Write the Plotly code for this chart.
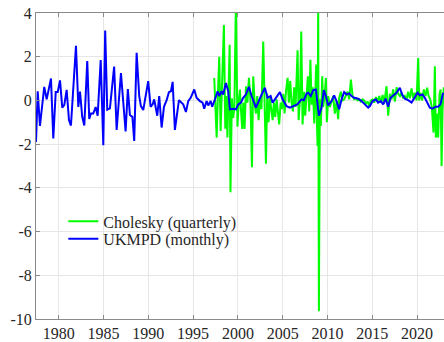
import plotly.graph_objects as go

# UKMPD monetary policy shocks (monthly series, sampled as plotted)
ukmpd_year = [
    1977.47, 1977.66, 1977.91, 1978.39, 1978.66, 1979.14, 1979.40, 1979.67, 1979.89, 1980.15,
    1980.40, 1980.63, 1980.89, 1981.15, 1981.37, 1981.93, 1982.19, 1982.38, 1982.63, 1982.86,
    1983.19, 1983.41, 1983.60, 1983.86, 1984.13, 1984.35, 1984.69, 1984.98, 1985.19, 1985.42,
    1985.72, 1986.19, 1986.47, 1986.95, 1987.47, 1987.72, 1987.95, 1988.23, 1988.43, 1988.70,
    1988.99, 1989.18, 1989.44, 1989.71, 1989.99, 1990.26, 1990.49, 1990.66, 1990.85, 1991.00,
    1991.22, 1991.49, 1991.75, 1992.05, 1992.30, 1992.53, 1992.72, 1992.97, 1993.42, 1993.90,
    1994.20, 1994.46, 1994.73, 1995.13, 1995.39, 1995.76, 1996.06, 1996.24, 1996.51, 1996.69,
    1996.96, 1997.13, 1997.44, 1997.74, 1997.92, 1998.18, 1998.36, 1998.66, 1998.92, 1999.11,
    1999.48, 1999.78, 2000.04, 2000.34, 2000.59, 2000.89, 2001.23, 2001.53, 2002.01, 2002.38,
    2002.65, 2003.01, 2003.31, 2003.65, 2003.87, 2004.13, 2004.39, 2004.69, 2004.99, 2005.43,
    2005.80, 2006.25, 2006.62, 2007.11, 2007.36, 2007.67, 2007.84, 2008.14, 2008.40, 2008.70,
    2009.04, 2009.34, 2009.59, 2009.82, 2010.07, 2010.45, 2010.74, 2011.01, 2011.30, 2011.57,
    2011.86, 2012.13, 2012.42, 2012.68, 2012.97, 2013.42, 2013.80, 2014.17, 2014.54, 2014.73,
    2015.03, 2015.40, 2015.65, 2015.95, 2016.21, 2016.48, 2016.77, 2017.04, 2017.33, 2017.70,
    2018.07, 2018.33, 2018.63, 2019.00, 2019.38, 2019.75, 2020.05, 2020.30, 2020.60, 2020.86,
    2021.16, 2021.42, 2021.72, 2022.06, 2022.35, 2022.61, 2022.90,
]
ukmpd_value = [
    -1.90, 0.42, -1.17, 0.62, 0.05, 1.00, -1.74, 0.38, 0.38, 0.92,
    -0.33, -0.20, 0.48, -0.90, -1.15, 2.50, -0.30, 0.40, -0.75, -1.15,
    1.80, -0.85, -0.60, -0.60, -0.30, -0.70, 1.85, -2.05, 3.20, -0.42,
    -0.36, 1.55, -1.35, 1.25, -1.42, 0.52, -0.67, -0.75, -1.85, 2.18,
    0.20, -0.26, -0.44, 0.20, 0.88, -0.29, -0.18, 0.05, -0.33, -0.70,
    0.20, -1.24, -0.29, 0.01, 0.38, 0.42, 0.85, -1.35, 0.01, -0.18,
    -0.53, -0.03, 0.12, 0.50, 0.12, -0.03, -0.10, -0.38, -0.03, -0.23,
    -0.03, -0.29, 0.05, 0.42, 0.20, 0.42, 0.27, 0.80, 0.42, -0.41,
    -0.38, -0.41, -0.18, -0.10, 0.12, 0.27, 0.62, 0.20, -0.33, 0.05,
    0.27, 0.58, 0.12, 0.20, -0.10, 0.05, 0.20, 0.38, 0.05, -0.26,
    -0.33, -0.26, -0.18, 0.05, 0.01, 0.32, 0.35, 0.20, 0.47, 0.50,
    -0.70, -0.33, 0.47, 0.20, -0.23, -0.03, 0.23, -0.03, -0.41, 0.05,
    0.38, 0.27, 0.32, 0.20, 0.12, 0.08, -0.03, -0.18, -0.33, -0.26,
    -0.03, 0.05, -0.10, -0.03, -0.18, 0.08, -0.29, 0.12, 0.23, 0.35,
    0.58, 0.27, 0.08, 0.01, -0.10, 0.12, 0.35, 0.23, 0.27, 0.12,
    -0.10, -0.33, -0.38, -0.29, -0.29, -0.18, 0.35,
]

# Cholesky-identified shocks (quarterly VAR)
chol_year = [
    1997.36, 1997.49, 1997.63, 1997.77, 1997.92, 1998.07, 1998.22, 1998.44, 1998.59, 1998.70,
    1998.83, 1998.94, 1999.08, 1999.17, 1999.33, 1999.48, 1999.61, 1999.78, 1999.95, 2000.12,
    2000.23, 2000.34, 2000.48, 2000.60, 2000.75, 2000.90, 2001.06, 2001.23, 2001.40, 2001.57,
    2001.71, 2001.87, 2002.01, 2002.16, 2002.31, 2002.46, 2002.63, 2002.83, 2002.98, 2003.13,
    2003.27, 2003.43, 2003.57, 2003.72, 2003.88, 2004.02, 2004.17, 2004.32, 2004.47, 2004.61,
    2004.77, 2004.91, 2005.06, 2005.21, 2005.36, 2005.55, 2005.69, 2005.84, 2005.99, 2006.14,
    2006.28, 2006.44, 2006.66, 2006.78, 2006.92, 2007.07, 2007.22, 2007.37, 2007.51, 2007.67,
    2007.81, 2007.96, 2008.09, 2008.23, 2008.37, 2008.52, 2008.65, 2008.74, 2008.82, 2008.89,
    2008.96, 2009.04, 2009.15, 2009.26, 2009.41, 2009.52, 2009.68, 2009.82, 2009.93, 2010.08,
    2010.27, 2010.46, 2010.63, 2010.82, 2011.01, 2011.19, 2011.30, 2011.49, 2011.68, 2011.86,
    2012.05, 2012.24, 2012.42, 2012.61, 2012.80, 2012.98, 2013.17, 2013.36, 2013.54, 2013.72,
    2013.91, 2014.09, 2014.28, 2014.47, 2014.65, 2014.84, 2015.03, 2015.21, 2015.40, 2015.59,
    2015.77, 2015.96, 2016.15, 2016.32, 2016.59, 2016.77, 2016.96, 2017.15, 2017.33, 2017.52,
    2017.71, 2017.89, 2018.08, 2018.26, 2018.44, 2018.63, 2018.82, 2019.00, 2019.19, 2019.38,
    2019.56, 2019.75, 2019.94, 2020.12, 2020.23, 2020.38, 2020.56, 2020.75, 2020.94, 2021.12,
    2021.28, 2021.46, 2021.64, 2021.83, 2021.98, 2022.09, 2022.24, 2022.35, 2022.50, 2022.62,
    2022.73, 2022.84, 2022.98,
]
chol_value = [
    1.03, -0.10, -1.70, 0.30, 2.00, -1.40, 0.30, 3.45, -1.30, 0.20,
    -1.70, 0.00, 2.55, -4.20, 0.10, -0.80, -0.30, 4.60, -1.20, 0.10,
    0.50, -0.40, -1.30, -0.10, -1.30, 0.65, -0.10, 1.03, 0.00, -3.06,
    1.10, -0.10, -0.60, 0.20, -0.90, 0.10, -0.40, 2.70, 0.40, -2.90,
    0.30, -1.00, 0.10, -0.40, -0.90, -0.10, -0.75, 0.05, -0.60, -1.10,
    -0.10, -0.40, 0.30, -0.60, 0.40, 1.03, -0.10, 0.90, -0.10, -0.50,
    0.60, -0.30, 2.30, -0.90, 0.00, 3.15, -1.10, 0.40, -0.70, 0.60,
    1.10, -0.50, 1.86, -0.20, 0.60, -1.05, 0.30, 1.64, -1.00, -2.08,
    4.60, -9.65, 0.05, -1.17, 1.10, -0.30, 0.20, 1.03, -1.00, 0.20,
    -0.30, 0.00, 0.20, -0.60, -0.05, -0.86, 0.10, 0.40, 0.00, 0.05,
    0.20, 0.40, 0.05, 0.95, 0.20, 0.05, 0.10, 0.00, 0.05, -0.05,
    0.05, 0.00, -0.15, -0.05, -0.25, 0.00, 0.05, -0.10, 0.15, -0.05,
    0.20, -0.10, 0.25, -0.15, 0.65, -0.70, 0.30, 0.05, 0.50, -0.05,
    0.60, 0.30, 0.20, 0.35, 0.10, 0.20, 0.05, 0.40, 0.10, 0.55,
    0.10, 0.35, 0.00, 1.94, 0.00, 0.35, 0.00, 0.50, 0.20, 0.58,
    0.20, 0.05, -0.30, -1.47, 1.56, -1.70, -0.60, -1.70, 0.30, 0.50,
    -3.00, -0.40, 0.60,
]

x_ticks = [1980, 1985, 1990, 1995, 2000, 2005, 2010, 2015, 2020]
x_tick_labels = ["1980", "1985", "1990", "1995", "2000", "2005", "2010", "2015", "2020"]
y_ticks = [-10, -8, -6, -4, -2, 0, 2, 4]
y_tick_labels = ["-10", "-8", "-6", "-4", "-2", "0", "2", "4"]

FONT = "Liberation Serif"
AXIS = "#8a8a8a"
GRID = "#e6e6e6"
TEXT = "#262626"

fig = go.Figure()
fig.add_trace(go.Scatter(
    x=chol_year, y=chol_value, mode="lines", name="Cholesky (quarterly)",
    line=dict(color="#00ff00", width=2), legend="legend",
))
fig.add_trace(go.Scatter(
    x=ukmpd_year, y=ukmpd_value, mode="lines", name="UKMPD (monthly)",
    line=dict(color="#0000ff", width=2), legend="legend2",
))

legend_common = dict(
    xanchor="left", yanchor="middle", bgcolor="rgba(0,0,0,0)", borderwidth=0,
    font=dict(family=FONT, size=16, color=TEXT), itemwidth=30, tracegroupgap=0,
)
fig.update_layout(
    width=444, height=342, autosize=False,
    margin=dict(l=36, r=0, t=13, b=21),
    paper_bgcolor="white", plot_bgcolor="white",
    font=dict(family=FONT, size=16, color=TEXT),
    showlegend=True,
    legend=dict(x=0.067, y=0.319, **legend_common),
    legend2=dict(x=0.067, y=0.262, **legend_common),
    xaxis=dict(
        range=[1977.47, 2023.0], tickvals=x_ticks, ticktext=x_tick_labels,
        showgrid=True, gridcolor=GRID, gridwidth=1, zeroline=False,
        showline=True, linecolor=AXIS, linewidth=1, mirror="ticks",
        ticks="inside", ticklen=4, tickcolor=AXIS,
        tickfont=dict(family=FONT, size=16, color=TEXT),
    ),
    yaxis=dict(
        range=[-10, 4], tickvals=y_ticks, ticktext=y_tick_labels,
        showgrid=True, gridcolor=GRID, gridwidth=1, zeroline=False,
        showline=True, linecolor=AXIS, linewidth=1,
        ticks="inside", ticklen=4, tickcolor=AXIS,
        tickfont=dict(family=FONT, size=16, color=TEXT),
    ),
)

fig.write_html("out.html")
